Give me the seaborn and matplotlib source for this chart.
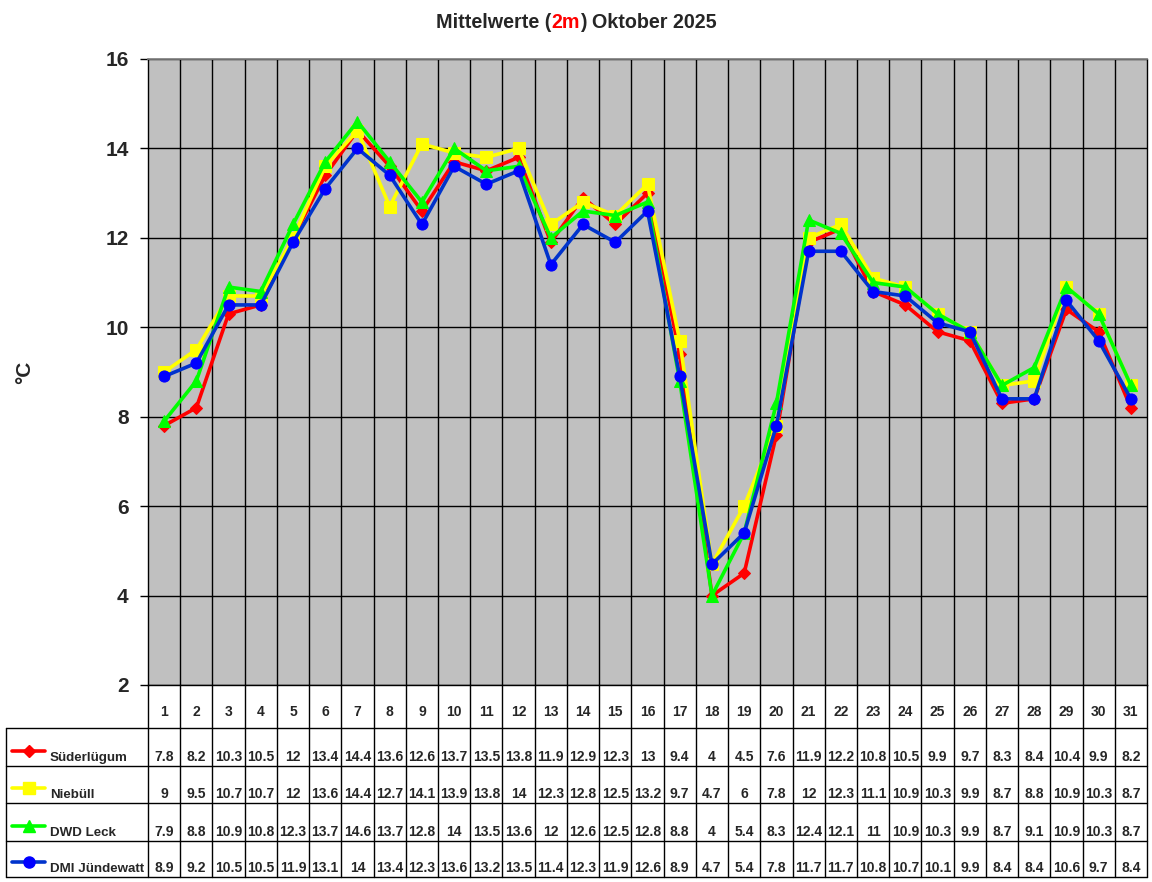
import matplotlib
matplotlib.use("Agg")
import matplotlib.pyplot as plt
import pandas as pd
import seaborn as sns

days = list(range(1, 32))
stations = ["Süderlügum", "Niebüll", "DWD Leck", "DMI Jündewatt"]

suederluegum = [7.8, 8.2, 10.3, 10.5, 12, 13.4, 14.4, 13.6, 12.6, 13.7, 13.5, 13.8, 11.9, 12.9, 12.3, 13,
                9.4, 4, 4.5, 7.6, 11.9, 12.2, 10.8, 10.5, 9.9, 9.7, 8.3, 8.4, 10.4, 9.9, 8.2]
niebuell = [9, 9.5, 10.7, 10.7, 12, 13.6, 14.4, 12.7, 14.1, 13.9, 13.8, 14, 12.3, 12.8, 12.5, 13.2,
            9.7, 4.7, 6, 7.8, 12, 12.3, 11.1, 10.9, 10.3, 9.9, 8.7, 8.8, 10.9, 10.3, 8.7]
dwd_leck = [7.9, 8.8, 10.9, 10.8, 12.3, 13.7, 14.6, 13.7, 12.8, 14, 13.5, 13.6, 12, 12.6, 12.5, 12.8,
            8.8, 4, 5.4, 8.3, 12.4, 12.1, 11, 10.9, 10.3, 9.9, 8.7, 9.1, 10.9, 10.3, 8.7]
dmi_juendewatt = [8.9, 9.2, 10.5, 10.5, 11.9, 13.1, 14, 13.4, 12.3, 13.6, 13.2, 13.5, 11.4, 12.3, 11.9, 12.6,
                  8.9, 4.7, 5.4, 7.8, 11.7, 11.7, 10.8, 10.7, 10.1, 9.9, 8.4, 8.4, 10.6, 9.7, 8.4]

series = [suederluegum, niebuell, dwd_leck, dmi_juendewatt]
line_colors = ["#FF0000", "#FFFF00", "#00FF00", "#0033CC"]
marker_colors = ["#FF0000", "#FFFF00", "#00FF00", "#0000FF"]
markers = ["D", "s", "^", "o"]
msizes = [6.5, 8, 8.5, 8]

sns.set_theme(style="white")
plt.rcParams["font.family"] = ["Liberation Sans", "DejaVu Sans"]
plt.rcParams["font.weight"] = "bold"

W, H = 1152, 882
fig = plt.figure(figsize=(W / 100, H / 100), dpi=100)
ax = fig.add_axes([148 / W, 1 - 685 / H, 999 / W, 626 / H])
ax.set_facecolor("#C0C0C0")

for name, vals, lc, mc, mk, ms in zip(stations, series, line_colors, marker_colors, markers, msizes):
    df = pd.DataFrame({"Tag": days, "Temp": vals})
    sns.lineplot(data=df, x="Tag", y="Temp", ax=ax, color=lc, linewidth=2.6, marker=mk,
                 markersize=ms, markerfacecolor=mc, markeredgecolor=mc, label=name, zorder=3)

ax.legend_.remove()
ax.set_xlim(0.5, 31.5)
ax.set_ylim(2, 16)
ax.set_yticks(range(2, 17, 2))
ax.set_xticks([d + 0.5 for d in days[:-1]])
ax.set_xticklabels([])
ax.tick_params(axis="x", length=0)
ax.tick_params(axis="y", length=6, width=1, color="black", direction="out", left=True,
               pad=8, labelsize=15)
for lab in ax.get_yticklabels():
    lab.set_fontweight("bold")
ax.grid(True, axis="both", color="black", linewidth=1)
ax.set_xlabel("")
ax.set_ylabel("°C", fontsize=15, fontweight="bold")
ax.yaxis.set_label_coords(-0.114, 0.5)
for side in ["left", "right", "bottom"]:
    ax.spines[side].set_color("black")
    ax.spines[side].set_linewidth(1)
ax.spines["top"].set_color("#808080")

# title with red "2m"
t1 = fig.text(436 / W, 1 - 32 / H, "Mittelwerte (", fontsize=14.2, fontweight="bold", va="bottom")
t2 = fig.text(0, 0, "2m", fontsize=14.2, fontweight="bold", color="red", va="bottom")
t3 = fig.text(0, 0, ") Oktober 2025", fontsize=14.2, fontweight="bold", va="bottom")
fig.canvas.draw()
r = fig.canvas.get_renderer()
x = t1.get_window_extent(r).x1
t2.set_x(x / W)
t2.set_y(t1.get_position()[1])
x = t2.get_window_extent(r).x1
t3.set_x(x / W)
t3.set_y(t1.get_position()[1])

# data table below the plot
tab = fig.add_axes([148 / W, 1 - 877 / H, 999 / W, 192 / H])
tab.set_xlim(0.5, 31.5)
tab.set_ylim(192, 0)
tab.axis("off")
row_edges = [0, 43, 81, 118, 156, 192]
left_x = 0.5 - (148 - 6) / (999 / 31)
kw = dict(color="black", linewidth=1, clip_on=False)
for d in days:
    tab.plot([d + 0.5, d + 0.5], [0, 192], **kw)
tab.plot([0.5, 0.5], [0, 192], **kw)
for yy in row_edges[1:]:
    tab.plot([left_x, 31.5], [yy, yy], **kw)
tab.plot([left_x, left_x], [row_edges[1], 192], **kw)

for d in days:
    tab.text(d, 27, str(d), ha="center", va="center", fontsize=10, fontweight="bold")

key_x0 = 0.5 - (148 - 12) / (999 / 31)
key_x1 = 0.5 - (148 - 45) / (999 / 31)
lab_x = 0.5 - (148 - 50) / (999 / 31)
for i, (name, vals) in enumerate(zip(stations, series)):
    bottom = row_edges[i + 2]
    tab.plot([key_x0, key_x1], [bottom - 15, bottom - 15], color=line_colors[i], linewidth=2.6,
             clip_on=False)
    tab.plot([(key_x0 + key_x1) / 2], [bottom - 15], marker=markers[i], markersize=msizes[i],
             color=marker_colors[i], clip_on=False)
    tab.text(lab_x, bottom - 8, name, ha="left", va="center", fontsize=9.6, fontweight="bold")
    for d, v in zip(days, vals):
        tab.text(d, bottom - 9, f"{v:g}", ha="center", va="center", fontsize=10, fontweight="bold")

fig.savefig("out.png", dpi=100)
